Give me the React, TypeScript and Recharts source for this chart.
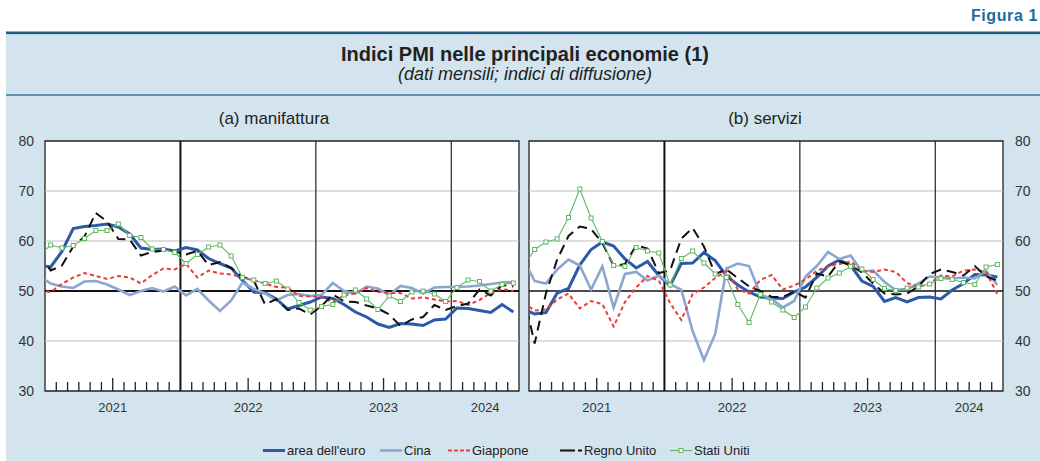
import React from "react";
import { LineChart, Line, XAxis, YAxis, CartesianGrid, ReferenceLine, ReferenceArea } from "recharts";

// months from Dec 2020 (clipped at the left edge) to Jun 2024
const MONTHS = [
  "2020-12",
  "2021-01", "2021-02", "2021-03", "2021-04", "2021-05", "2021-06", "2021-07", "2021-08", "2021-09", "2021-10", "2021-11", "2021-12",
  "2022-01", "2022-02", "2022-03", "2022-04", "2022-05", "2022-06", "2022-07", "2022-08", "2022-09", "2022-10", "2022-11", "2022-12",
  "2023-01", "2023-02", "2023-03", "2023-04", "2023-05", "2023-06", "2023-07", "2023-08", "2023-09", "2023-10", "2023-11", "2023-12",
  "2024-01", "2024-02", "2024-03", "2024-04", "2024-05", "2024-06",
];

// (a) manifattura
const EURO_MAN = [55.2, 54.8, 57.9, 62.5, 62.9, 63.1, 63.4, 62.8, 61.4, 58.6, 58.3, 58.4, 58.0, 58.7, 58.2, 56.5, 55.5, 54.6, 52.1, 49.8, 49.6, 48.4, 46.4, 47.1, 47.8, 48.8, 48.5, 47.3, 45.8, 44.8, 43.4, 42.7, 43.5, 43.4, 43.1, 44.2, 44.4, 46.6, 46.5, 46.1, 45.7, 47.3, 45.8];
const CINA_MAN = [53.0, 51.5, 50.9, 50.6, 51.9, 52.0, 51.3, 50.3, 49.2, 50.0, 50.6, 49.9, 50.9, 49.1, 50.4, 48.1, 46.0, 48.1, 51.7, 50.4, 49.5, 48.1, 49.2, 49.4, 49.0, 49.2, 51.6, 50.0, 49.5, 50.9, 50.5, 49.2, 51.0, 50.6, 49.5, 50.7, 50.8, 50.8, 50.9, 51.1, 51.4, 51.7, 51.8];
const GIAPPONE_MAN = [50.0, 49.8, 51.4, 52.7, 53.6, 53.0, 52.4, 53.0, 52.7, 51.5, 53.2, 54.5, 54.3, 55.4, 52.7, 54.1, 53.5, 53.3, 52.7, 52.1, 51.5, 50.8, 50.7, 49.0, 48.9, 48.9, 47.7, 49.2, 49.5, 50.6, 49.8, 49.6, 49.6, 48.5, 48.7, 48.3, 47.9, 48.0, 47.2, 48.2, 49.6, 50.4, 50.0];
const UK_MAN = [57.5, 54.1, 55.1, 58.9, 60.9, 65.6, 63.9, 60.4, 60.3, 57.1, 57.8, 58.1, 57.9, 57.3, 58.0, 55.2, 55.8, 54.6, 52.8, 52.1, 47.3, 48.4, 46.2, 46.5, 45.3, 47.0, 49.3, 47.9, 47.8, 47.1, 46.5, 45.3, 43.0, 44.3, 44.8, 47.2, 46.2, 47.0, 47.5, 50.3, 49.1, 51.2, 50.9];
const USA_MAN = [57.1, 59.2, 58.6, 59.1, 60.5, 62.1, 62.1, 63.4, 61.1, 60.7, 58.4, 58.3, 57.7, 55.5, 57.3, 58.8, 59.2, 57.0, 52.7, 52.2, 51.5, 52.0, 50.4, 47.7, 46.2, 46.9, 47.3, 49.2, 50.2, 48.4, 46.3, 49.0, 47.9, 49.8, 50.0, 49.4, 47.9, 50.7, 52.2, 51.9, 50.0, 51.3, 51.6];

// (b) servizi
const EURO_SER = [46.4, 45.4, 45.7, 49.6, 50.5, 55.2, 58.3, 59.8, 59.0, 56.4, 54.6, 55.9, 53.1, 51.1, 55.5, 55.6, 57.7, 56.1, 53.0, 51.2, 49.8, 48.8, 48.6, 48.5, 49.8, 50.8, 52.7, 55.0, 56.2, 55.1, 52.0, 50.9, 47.9, 48.7, 47.8, 48.7, 48.8, 48.4, 50.2, 51.5, 53.3, 53.2, 52.8];
const CINA_SER = [56.3, 52.0, 51.5, 54.3, 56.3, 55.1, 50.3, 54.9, 46.7, 53.4, 53.8, 52.1, 53.1, 51.4, 50.2, 42.0, 36.2, 41.4, 54.5, 55.5, 55.0, 49.3, 48.4, 46.7, 48.0, 52.9, 55.0, 57.8, 56.4, 57.1, 53.9, 54.1, 51.8, 50.2, 50.4, 51.5, 52.9, 52.7, 52.5, 52.7, 52.5, 54.0, 51.2];
const GIAPPONE_SER = [47.7, 46.1, 46.3, 48.3, 49.5, 46.5, 48.0, 47.4, 42.9, 47.8, 50.7, 53.0, 52.1, 47.6, 44.2, 49.4, 50.7, 52.6, 54.0, 50.3, 49.5, 52.2, 53.2, 50.3, 51.1, 52.3, 54.0, 55.0, 55.4, 55.9, 54.0, 53.8, 54.3, 53.8, 51.6, 50.8, 51.5, 53.1, 52.9, 54.1, 54.3, 53.8, 49.4];
const UK_SER = [49.4, 39.5, 49.5, 56.3, 61.0, 62.9, 62.4, 59.6, 55.0, 55.4, 59.1, 58.5, 53.6, 54.1, 60.5, 62.6, 58.9, 53.4, 54.3, 52.6, 50.9, 50.0, 48.8, 48.8, 49.9, 48.7, 53.5, 52.9, 55.9, 55.2, 53.7, 51.5, 49.5, 49.3, 49.5, 50.9, 53.4, 54.3, 53.8, 53.1, 55.0, 52.9, 52.1];
const USA_SER = [54.8, 58.3, 59.8, 60.4, 64.7, 70.4, 64.6, 59.9, 55.1, 54.9, 58.7, 58.0, 57.6, 51.2, 56.5, 58.0, 55.6, 53.4, 52.7, 47.3, 43.7, 49.3, 47.8, 46.2, 44.7, 46.8, 50.6, 52.6, 53.6, 54.9, 54.4, 52.3, 50.5, 50.1, 50.6, 50.8, 51.4, 52.5, 52.3, 51.7, 51.3, 54.8, 55.3];

const Y_TICKS = [30, 40, 50, 60, 70, 80];
const YEAR_LABELS = ["2021", "2022", "2023", "2024"];
const YEAR_LABEL_POS = [6, 18, 30, 39];
const YEAR_STARTS = [12, 24, 36];
const MID_YEAR = [6, 18, 30];
const MONTH_TICKS = Array.from({ length: 41 }, (_, i) => i + 1).filter((m) => !YEAR_STARTS.includes(m));

const FONT = '"Liberation Sans", Arial, Helvetica, sans-serif';

const SERIES = [
  { key: "euro", name: "area dell'euro", color: "#2b5ba8", width: 3, dash: undefined as string | undefined },
  { key: "cina", name: "Cina", color: "#8ba7cf", width: 2.6, dash: undefined as string | undefined },
  { key: "giappone", name: "Giappone", color: "#ee3a3a", width: 2, dash: "4 3" },
  { key: "uk", name: "Regno Unito", color: "#111111", width: 2, dash: "10 6" },
  { key: "usa", name: "Stati Uniti", color: "#62b862", width: 1.1, dash: undefined as string | undefined },
];

function buildRows(euro: number[], cina: number[], giappone: number[], uk: number[], usa: number[]) {
  return MONTHS.map((m, i) => ({
    month: m,
    t: i - 0.5,
    euro: euro[i],
    cina: cina[i],
    giappone: giappone[i],
    uk: uk[i],
    usa: usa[i],
  }));
}

const manData = buildRows(EURO_MAN, CINA_MAN, GIAPPONE_MAN, UK_MAN, USA_MAN);
const serData = buildRows(EURO_SER, CINA_SER, GIAPPONE_SER, UK_SER, USA_SER);

function MonthTick(props: any) {
  const { x, y, payload } = props;
  const v = payload.value;
  const len = MID_YEAR.includes(v) ? 13 : 9;
  const li = YEAR_LABEL_POS.indexOf(v);
  return (
    <g>
      <line x1={x} x2={x} y1={y} y2={y - len} stroke="#222" strokeWidth={1.3} />
      {li >= 0 && (
        <text x={x} y={y + 21} textAnchor="middle" fontSize={13} fill="#333" fontFamily={FONT}>
          {YEAR_LABELS[li]}
        </text>
      )}
    </g>
  );
}

function SquareDot(props: any) {
  const { cx, cy, index } = props;
  if (cx == null || cy == null) return <g key={index} />;
  return <rect key={index} x={cx - 2} y={cy - 2} width={4} height={4} fill="#fff" stroke="#62b862" strokeWidth={1} />;
}

function Panel({ data, side, zeroWidth }: { data: any[]; side: "left" | "right"; zeroWidth: number }) {
  const isLeft = side === "left";
  return (
    <LineChart
      width={isLeft ? 530 : 521}
      height={300}
      data={data}
      margin={isLeft ? { top: 11, right: 11, bottom: 0, left: 0 } : { top: 11, right: 0, bottom: 0, left: 10 }}
    >
      <CartesianGrid horizontal={false} vertical={false} fill="#ffffff" fillOpacity={1} />
      <XAxis
        dataKey="t"
        type="number"
        domain={[0, 42]}
        allowDataOverflow
        ticks={MONTH_TICKS}
        interval={0}
        axisLine={false}
        tickLine={false}
        tickSize={0}
        tickMargin={0}
        height={39}
        tick={<MonthTick />}
      />
      <YAxis
        orientation={side}
        type="number"
        domain={[30, 80]}
        ticks={Y_TICKS}
        interval={0}
        width={isLeft ? 45 : 37}
        axisLine={false}
        tickLine={false}
        tickSize={0}
        tickMargin={isLeft ? 11 : 12}
        tick={{ fontSize: 14, fill: "#333", fontFamily: FONT }}
      />
      <ReferenceLine y={40} stroke="#bdbdbd" strokeWidth={1.2} />
      <ReferenceLine y={60} stroke="#bdbdbd" strokeWidth={1.2} />
      <ReferenceLine y={70} stroke="#bdbdbd" strokeWidth={1.2} />
      <ReferenceLine y={50} stroke="#111" strokeWidth={zeroWidth} />
      <ReferenceLine x={12} stroke="#111" strokeWidth={2} />
      <ReferenceLine x={24} stroke="#222" strokeWidth={1.2} />
      <ReferenceLine x={36} stroke="#222" strokeWidth={1.2} />
      {SERIES.map((s) => (
        <Line
          key={s.key}
          type="linear"
          dataKey={s.key}
          name={s.name}
          stroke={s.color}
          strokeWidth={s.width}
          strokeDasharray={s.dash}
          dot={s.key === "usa" ? <SquareDot /> : false}
          activeDot={false}
          isAnimationActive={false}
        />
      ))}
      <ReferenceArea x1={0} x2={42} y1={30} y2={80} fill="none" stroke="#222" strokeWidth={1.3} />
    </LineChart>
  );
}

const LEGEND_X = [263, 380, 448, 560, 670];

function Legend() {
  return (
    <g fontFamily={FONT} fontSize={13} fill="#222">
      {SERIES.map((s, i) => {
        const x0 = LEGEND_X[i];
        const dash = s.key === "uk" ? "15 3" : s.key === "giappone" ? "4 2" : undefined;
        return (
          <g key={s.key}>
            <line x1={x0} x2={x0 + 22} y1={450.5} y2={450.5} stroke={s.color} strokeWidth={s.width} strokeDasharray={dash} />
            {s.key === "usa" && (
              <rect x={x0 + 9} y={448.5} width={4} height={4} fill="#fff" stroke={s.color} strokeWidth={1} />
            )}
            <text x={x0 + 24} y={455}>{s.name}</text>
          </g>
        );
      })}
    </g>
  );
}

export default function App() {
  return (
    <div style={{ position: "absolute", left: 0, top: 0, width: 1040, height: 461, background: "#fff", fontFamily: FONT, overflow: "hidden" }}>
      <svg width={1040} height={461} style={{ position: "absolute", left: 0, top: 0 }}>
        <rect x={6} y={33} width={1034} height={428} fill="#d3e4ee" />
        <rect x={6} y={31.5} width={1034} height={2.6} fill="#1f5b7d" />
        <rect x={6} y={94} width={1034} height={2} fill="#5f93b3" />
        <text x={1038} y={21} textAnchor="end" fontSize={16} fontWeight="bold" fill="#1c6c9a" letterSpacing={0.6} fontFamily={FONT}>
          Figura 1
        </text>
        <text x={525} y={61} textAnchor="middle" fontSize={20} fontWeight="bold" fill="#222" fontFamily={FONT}>
          Indici PMI nelle principali economie (1)
        </text>
        <text x={525} y={80} textAnchor="middle" fontSize={18} fontStyle="italic" fill="#222" fontFamily={FONT}>
          (dati mensili; indici di diffusione)
        </text>
        <text x={274} y={124} textAnchor="middle" fontSize={17} fill="#222" fontFamily={FONT}>
          (a) manifattura
        </text>
        <text x={765} y={124} textAnchor="middle" fontSize={17} fill="#222" fontFamily={FONT}>
          (b) servizi
        </text>
        <Legend />
      </svg>
      <div style={{ position: "absolute", left: 0, top: 130 }}>
        <Panel data={manData} side="left" zeroWidth={2} />
      </div>
      <div style={{ position: "absolute", left: 519, top: 130 }}>
        <Panel data={serData} side="right" zeroWidth={1.3} />
      </div>
    </div>
  );
}
